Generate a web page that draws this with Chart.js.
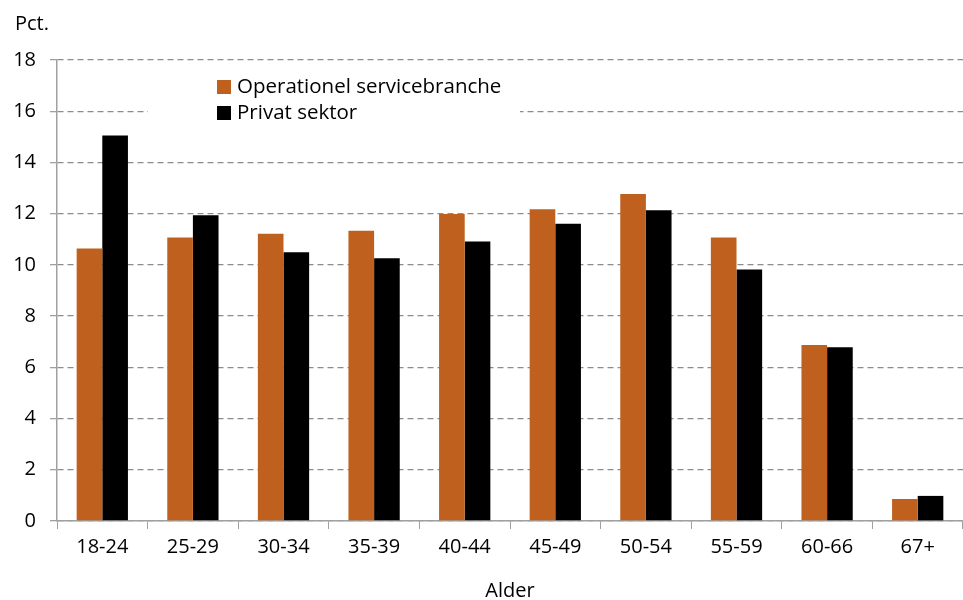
<!DOCTYPE html>
<html>
<head>
<meta charset="utf-8">
<script src="https://cdn.jsdelivr.net/npm/chart.js@4.4.1/dist/chart.umd.min.js"></script>
<style>
  html, body { margin: 0; padding: 0; background: #fff; }
  #wrap { width: 963px; height: 600px; position: relative; }
</style>
</head>
<body>
<div id="wrap"><canvas id="aldersChart"></canvas></div>
<script>
const kategorier = ['18-24', '25-29', '30-34', '35-39', '40-44', '45-49', '50-54', '55-59', '60-66', '67+'];
const operationel = [10.64, 11.07, 11.22, 11.33, 11.99, 12.17, 12.77, 11.07, 6.87, 0.86];
const privat = [15.05, 11.94, 10.49, 10.26, 10.91, 11.61, 12.13, 9.82, 6.78, 0.98];
const yTicks = [0, 2, 4, 6, 8, 10, 12, 14, 16, 18];

const fontName = "'Open Sans', sans-serif";
const orange = '#c0601e';

// legend drawn inside plot area, with white background like the original
const boxLegend = {
  id: 'boxLegend',
  beforeDatasetsDraw(chart) {
    const ctx = chart.ctx;
    const a = chart.chartArea;
    ctx.save();
    ctx.fillStyle = '#fff';
    ctx.fillRect(a.left + 91, a.top + 8, 372, 66);
    ctx.font = '20.5px ' + fontName;
    ctx.textBaseline = 'middle';
    chart.data.datasets.forEach((ds, i) => {
      const y = a.top + 27 + i * 26;
      ctx.fillStyle = ds.backgroundColor;
      ctx.fillRect(a.left + 160, y - 7, 14, 14);
      ctx.fillStyle = '#000';
      ctx.fillText(ds.label, a.left + 180, y);
    });
    ctx.restore();
  },
  afterDraw(chart) {
    const ctx = chart.ctx;
    ctx.save();
    ctx.font = '20px ' + fontName;
    ctx.fillStyle = '#000';
    ctx.textBaseline = 'alphabetic';
    ctx.fillText('Pct.', 15, 30);
    ctx.restore();
  }
};

const aldersChart = new Chart(document.getElementById('aldersChart'), {
  type: 'bar',
  data: {
    labels: kategorier,
    datasets: [
      { label: 'Operationel servicebranche', data: operationel, backgroundColor: orange, borderWidth: 0, barPercentage: 1, categoryPercentage: 0.566 },
      { label: 'Privat sektor', data: privat, backgroundColor: '#000', borderWidth: 0, barPercentage: 1, categoryPercentage: 0.566 }
    ]
  },
  options: {
    responsive: true,
    maintainAspectRatio: false,
    animation: false,
    layout: { padding: { top: 60, right: 0, left: 0, bottom: 0 } },
    plugins: {
      legend: { display: false },
      tooltip: { enabled: false }
    },
    scales: {
      x: {
        grid: { display: true, drawOnChartArea: false, drawTicks: true, tickLength: 8, tickColor: '#a0a0a0', offset: true },
        border: { display: true, color: '#a0a0a0', width: 1.5 },
        ticks: { color: '#000', font: { family: fontName, size: 20 }, padding: 6, maxRotation: 0 },
        title: { display: true, text: 'Alder', color: '#000', font: { family: fontName, size: 20 }, padding: { top: 0, bottom: -3 } },
        afterFit(scale) { scale.height = 79; }
      },
      y: {
        min: 0,
        max: 18,
        afterBuildTicks(scale) { scale.ticks = yTicks.map(v => ({ value: v })); },
        grid: { color: '#8c8c8c', lineWidth: 1.3, drawTicks: true, tickLength: 7, tickColor: '#a0a0a0', tickBorderDash: [] },
        border: { display: true, color: '#a0a0a0', width: 1.5, dash: [6, 4] },
        ticks: { color: '#000', font: { family: fontName, size: 20 }, padding: 14 },
        afterFit(scale) { scale.width = 57; }
      }
    }
  },
  plugins: [boxLegend]
});
</script>
</body>
</html>
